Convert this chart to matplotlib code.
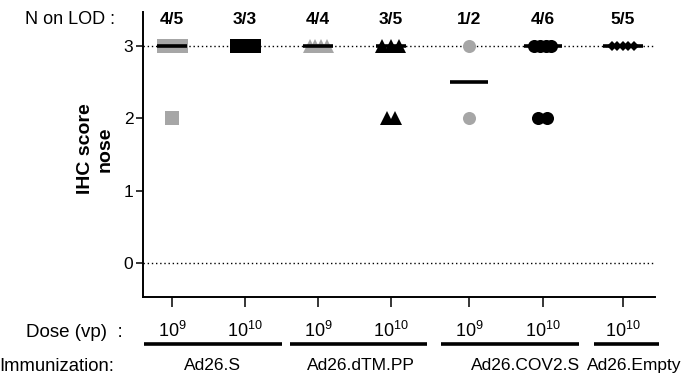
import numpy as np
import matplotlib
matplotlib.use("Agg")
import matplotlib.pyplot as plt
import matplotlib.transforms as mtransforms

plt.rcParams['font.family'] = ['Liberation Sans', 'DejaVu Sans']
plt.rcParams['mathtext.default'] = 'regular'

# one entry per group (left to right)
xpos = [1, 2, 3, 4, 5.07, 6.08, 7.18]
scores = [
    [3, 3, 3, 3, 2],
    [3, 3, 3],
    [3, 3, 3, 3],
    [3, 3, 3, 2, 2],
    [3, 2],
    [3, 3, 3, 3, 2, 2],
    [3, 3, 3, 3, 3],
]
n_on_lod = ["4/5", "3/3", "4/4", "3/5", "1/2", "4/6", "5/5"]
doses = ["$10^9$", "$10^{10}$", "$10^9$", "$10^{10}$", "$10^9$", "$10^{10}$", "$10^{10}$"]
vaccines = ["Ad26.S", "Ad26.dTM.PP", "Ad26.COV2.S", "Ad26.Empty"]
vaccine_groups = [[0, 1], [2, 3], [4, 5], [6]]

gray = '#a6a6a6'
styles = [('s', gray, 9.4), ('s', 'black', 9.4), ('^', gray, 9.5), ('^', 'black', 9.5),
          ('o', gray, 9.4), ('o', 'black', 9.4), ('D', 'black', 5.0)]
med_width = [0.42, 0.42, 0.42, 0.42, 0.52, 0.52, 0.55]
# where each vaccine name sits (x in data units, alignment)
name_anchor = [(1.55, 'center'), (3.59, 'center'), (5.84, 'center'), (7.98, 'right')]

fig = plt.figure(figsize=(6.84, 3.78), dpi=100)
ax = fig.add_axes([143/684, 1 - 297/378, (655 - 143)/684, (297 - 12)/378])

ax.axhline(3, color='black', ls=(0, (1, 2)), lw=1, zorder=1)
ax.axhline(0, color='black', ls=(0, (1, 2)), lw=1, zorder=1)

for i, vals in enumerate(scores):
    marker, col, ms = styles[i]
    vals = np.array(vals)
    for level in np.unique(vals):
        n = np.sum(vals == level)
        step = min(0.117, 0.233 / max(n - 1, 1))
        if marker == 'D':
            step = 0.075
        offs = (np.arange(n) - (n - 1) / 2) * step
        ax.plot(xpos[i] + offs, np.full(n, level), ls='none', marker=marker,
                color=col, markersize=ms, markeredgewidth=0, zorder=3)
    med = np.median(vals)
    w = med_width[i] / 2
    ax.plot([xpos[i] - w, xpos[i] + w], [med, med], color='black', lw=2.6,
            solid_capstyle='butt', zorder=4)

ax.set_xlim(0.6, 7.62)
ax.set_ylim(-0.47, 3.47)
ax.set_yticks([0, 1, 2, 3])
ax.set_xticks(xpos)
ax.set_xticklabels([])
ax.tick_params(axis='y', labelsize=12.5, length=5, width=1.1, pad=2)
ax.tick_params(axis='x', length=7, width=1.1)
for s in ['top', 'right']:
    ax.spines[s].set_visible(False)
for s in ['left', 'bottom']:
    ax.spines[s].set_linewidth(1.4)

ax.set_ylabel("IHC score\nnose", fontsize=14, fontweight='bold', linespacing=1.2)
ax.yaxis.set_label_coords(-0.058, 0.52)

# counts on top
trans = mtransforms.blended_transform_factory(ax.transData, fig.transFigure)
for x, t in zip(xpos, n_on_lod):
    ax.text(x, 1 - 20/378, t, transform=trans, ha='center', va='center',
            fontsize=12.5, fontweight='bold')
fig.text(115/684, 1 - 20/378, "N on LOD :", ha='right', va='center', fontsize=13)

# dose labels
for x, d in zip(xpos, doses):
    ax.text(x, 1 - 337/378, d, transform=trans, ha='center', va='baseline', fontsize=13)
fig.text(123/684, 1 - 337/378, "Dose (vp)  :", ha='right', va='baseline', fontsize=13.5)

# vaccine underline + names
for name, g, (nx, nha) in zip(vaccines, vaccine_groups, name_anchor):
    x0 = xpos[g[0]] - 0.39
    x1 = xpos[g[-1]] + 0.5
    ax.plot([x0, x1], [1 - 343.5/378] * 2, transform=trans, color='black', lw=2.6,
            solid_capstyle='butt', clip_on=False)
    ax.text(nx, 1 - 370/378, name, transform=trans, ha=nha,
            va='baseline', fontsize=12.5)
fig.text(114/684, 1 - 371/378, "Immunization:", ha='right', va='baseline', fontsize=13.3)

fig.savefig("out.png", dpi=100)
